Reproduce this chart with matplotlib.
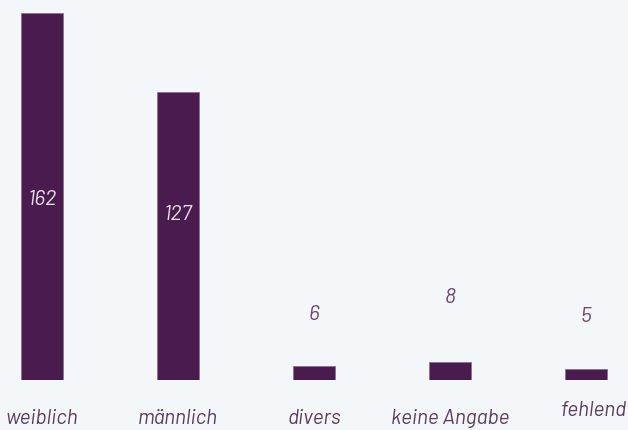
import matplotlib.pyplot as plt
import matplotlib.transforms as mtransforms

categories = ["weiblich", "männlich", "divers", "keine Angabe", "fehlend"]
counts = [162, 127, 6, 8, 5]
# vertical position of each count label (data units)
label_y = [79.5, 73, 29, 36.5, 28]

bg = "#f4f7f9"
bar_col = "#4a1b4f"
text_col = "#6a4a6e"
fam = ["Barlow", "DejaVu Sans"]

fig = plt.figure(figsize=(6.28, 4.30), dpi=100, facecolor=bg)
ax = fig.add_axes([0, 50 / 430, 1, 380 / 430])
ax.set_facecolor(bg)

x = list(range(len(categories)))
ax.bar(x, counts, width=0.31, color=bar_col, edgecolor="#8c6f92", linewidth=0.6)

for xi, v, ly in zip(x, counts, label_y):
    inside = v > 50
    ax.text(xi, ly, str(v), ha="center", va="center", fontsize=15.5,
            style="italic", family=fam,
            color="#e6dfe8" if inside else text_col)

ax.set_xlim(-0.309, 4.309)
ax.set_ylim(0, 162 * 380 / 367)
ax.set_xticks(x)
ax.set_xticklabels(categories, fontsize=15, style="italic", family=fam, color="#5c3c60")
ax.tick_params(axis="x", length=0, pad=21)
ax.set_yticks([])
for s in ax.spines.values():
    s.set_visible(False)

# last label sits a little higher and further left in the original
last = ax.get_xticklabels()[-1]
last.set_transform(last.get_transform() + mtransforms.ScaledTranslation(8 / 100, 8 / 100, fig.dpi_scale_trans))

fig.savefig("out.png", facecolor=bg)
